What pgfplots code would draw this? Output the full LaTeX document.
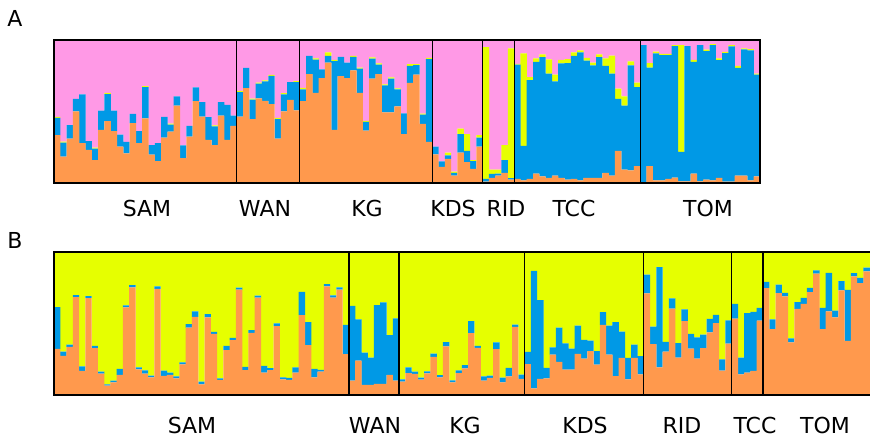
\documentclass[border=0pt]{standalone}
\usepackage{pgfplots}
\usepackage{pgfplotstable}
\usepackage{fontspec}
\setmainfont{DejaVu Sans}
\pgfplotsset{compat=1.18}

\definecolor{cpink}{HTML}{FF99E6}
\definecolor{cblue}{HTML}{0099E6}
\definecolor{corange}{HTML}{FF994D}
\definecolor{cyellow}{HTML}{E6FF00}

% panel A: orange, blue, yellow, pink per individual
\pgfplotstableread{
x o b y p
1 .334 .122 .007 .537
2 .184 .099 .007 .710
3 .311 .094 0 .595
4 .501 .087 0 .412
5 .278 .341 0 .381
6 .231 .061 0 .708
7 .160 .080 .007 .753
8 .372 .134 0 .494
9 .433 .188 .009 .370
10 .362 .144 0 .494
11 .254 .085 0 .661
12 .207 .080 0 .713
13 .419 .064 0 .517
14 .278 .085 0 .637
15 .452 .219 .007 .322
16 .198 .066 0 .736
17 .153 .125 0 .722
18 .318 .144 0 .538
19 .360 .049 .007 .584
20 .541 .064 0 .395
21 .174 .089 0 .737
22 .325 .075 0 .600
23 .572 .096 0 .332
24 .464 .101 0 .435
25 .301 .160 0 .539
26 .264 .132 .007 .597
27 .471 .094 0 .435
28 .301 .245 0 .454
29 .400 .071 0 .529
30 .464 .172 .009 .355
31 .664 .141 0 .195
32 .447 .136 .007 .410
33 .591 .104 .007 .298
34 .574 .136 .007 .283
35 .551 .198 .007 .244
36 .311 .136 .009 .544
37 .501 .118 .009 .372
38 .581 .125 0 .294
39 .508 .198 .007 .287
40 .572 .082 .012 .334
41 .762 .127 0 .111
42 .631 .231 .009 .129
43 .734 .061 0 .205
44 .842 .047 .024 .087
45 .372 .480 .009 .139
46 .748 .134 0 .118
47 .734 .108 0 .158
48 .788 .094 .007 .111
49 .631 .169 .007 .193
50 .367 .061 .007 .565
51 .729 .141 .009 .121
52 .762 .066 .009 .163
53 .494 .188 .007 .311
54 .494 .235 .009 .262
55 .536 .118 .007 .339
56 .341 .146 0 .513
57 .701 .118 .012 .169
58 .758 .066 .007 .169
59 .414 .064 .007 .515
60 .287 .579 .009 .125
61 .200 .054 0 .746
62 .113 .038 0 .849
63 .169 .024 .019 .788
64 .052 .019 .009 .920
65 .212 .129 .040 .619
66 .146 .078 .118 .658
67 .099 .054 .007 .840
68 .254 .064 .016 .666
69 .009 .019 .922 .050
70 .035 .028 .031 .906
71 .052 .014 .028 .906
72 .071 .089 .104 .736
73 .024 .010 .907 .059
74 .028 .800 .005 .167
75 .019 .240 .647 .094
76 .028 .692 .021 .259
77 .066 .781 .024 .129
78 .047 .833 .019 .101
79 .035 .729 .101 .135
80 .052 .659 .047 .242
81 .035 .802 .024 .139
82 .024 .814 .028 .134
83 .028 .861 .024 .087
84 .019 .894 .014 .073
85 .035 .821 .019 .125
86 .035 .788 .019 .158
87 .035 .845 .019 .101
88 .071 .748 .052 .129
89 .052 .713 .125 .110
90 .224 .365 .071 .340
91 .094 .447 .064 .395
92 .089 .734 .028 .149
93 .118 .553 .031 .298
94 .005 .960 0 .035
95 .118 .689 .031 .162
96 .019 .887 .012 .082
97 .019 .875 .009 .097
98 .028 .866 .009 .097
99 .038 .920 .007 .035
100 .012 .205 .748 .035
101 .012 .946 0 .042
102 .066 .781 .014 .139
103 .012 .953 0 .035
104 .024 .899 .009 .068
105 .019 .946 .007 .028
106 .035 .824 .012 .129
107 .009 .899 .009 .083
108 .009 .946 .009 .036
109 .052 .753 .014 .181
110 .052 .882 .007 .059
111 .019 .908 .009 .064
112 .047 .711 .007 .235
}\tabA

% panel B: orange, blue, yellow
\pgfplotstableread{
x o b y
1 .322 .292 .386
2 .273 .030 .697
3 .336 .016 .648
4 .685 .014 .301
5 .168 .033 .799
6 .678 .014 .308
7 .327 .016 .657
8 .150 .014 .836
9 .065 .009 .926
10 .089 .012 .899
11 .140 .042 .818
12 .612 .014 .374
13 .752 .016 .232
14 .180 .014 .806
15 .150 .023 .827
16 .124 .012 .864
17 .743 .016 .241
18 .133 .037 .830
19 .140 .016 .844
20 .117 .014 .869
21 .215 .014 .771
22 .472 .023 .505
23 .547 .037 .416
24 .075 .019 .906
25 .542 .023 .435
26 .428 .014 .558
27 .105 .012 .883
28 .314 .030 .656
29 .384 .016 .600
30 .737 .014 .249
31 .174 .023 .803
32 .435 .019 .546
33 .681 .014 .305
34 .156 .047 .797
35 .174 .014 .812
36 .481 .019 .500
37 .109 .014 .877
38 .105 .014 .881
39 .156 .037 .807
40 .558 .163 .279
41 .349 .160 .491
42 .123 .060 .817
43 .163 .012 .825
44 .760 .016 .224
45 .681 .016 .303
46 .737 .016 .247
47 .286 .205 .509
48 .100 .523 .377
49 .240 .288 .472
50 .070 .226 .704
51 .070 .191 .739
52 .077 .551 .372
53 .077 .570 .353
54 .140 .279 .581
55 .100 .435 .465
56 .093 .016 .891
57 .153 .040 .807
58 .147 .016 .837
59 .107 .014 .879
60 .151 .014 .835
61 .267 .023 .710
62 .123 .016 .861
63 .340 .030 .630
64 .088 .014 .898
65 .153 .019 .828
66 .186 .023 .791
67 .433 .084 .483
68 .330 .014 .656
69 .100 .030 .870
70 .119 .016 .865
71 .321 .047 .632
72 .088 .033 .879
73 .130 .060 .810
74 .477 .016 .507
75 .112 .030 .858
76 .216 .086 .698
77 .047 .821 .132
78 .112 .551 .337
79 .116 .074 .810
80 .282 .051 .667
81 .231 .241 .528
82 .178 .183 .639
83 .178 .146 .676
84 .287 .199 .514
85 .255 .130 .615
86 .306 .074 .620
87 .213 .093 .694
88 .491 .088 .421
89 .282 .204 .514
90 .132 .377 .491
91 .259 .185 .556
92 .109 .150 .741
93 .259 .093 .648
94 .144 .127 .729
95 .711 .130 .159
96 .355 .123 .522
97 .194 .701 .105
98 .303 .069 .628
99 .604 .071 .325
100 .261 .102 .637
101 .517 .081 .402
102 .325 .102 .573
103 .254 .149 .597
104 .327 .095 .578
105 .438 .095 .467
106 .502 .059 .439
107 .171 .078 .751
108 .360 .161 .479
109 .534 .103 .363
110 .145 .117 .738
111 .157 .415 .428
112 .169 .412 .419
113 .520 .089 .391
114 .747 .044 .209
115 .461 .068 .471
116 .712 .059 .229
117 .689 .026 .285
118 .368 .028 .604
119 .602 .047 .351
120 .637 .042 .321
121 .719 .030 .251
122 .848 .023 .129
123 .461 .148 .391
124 .585 .269 .146
125 .543 .047 .410
126 .731 .066 .203
127 .379 .356 .265
128 .829 .023 .148
129 .782 .037 .181
130 .864 .026 .110
}\tabB

\newcommand{\lab}{\fontsize{22bp}{26bp}\selectfont}

\pgfplotsset{
  struct/.style={
    scale only axis, anchor=south west,
    ybar stacked, bar width=1.02,
    ymin=0, ymax=1, xtick=\empty, ytick=\empty,
    axis line style={line width=1.6bp},
    axis on top, clip=true,
    extra x tick labels={},
    extra x tick style={grid=major, major tick length=0pt,
      major grid style={black, line width=1.3bp}},
  },
}

\begin{document}
\begin{tikzpicture}
\useasboundingbox (0,0) rectangle (870bp,440bp);
\node[font=\lab] at (15bp,421.5bp) {A};
\node[font=\lab] at (15bp,199.5bp) {B};

\begin{axis}[struct, at={(54bp,257bp)}, width=706bp, height=143bp,
  xmin=0.5, xmax=112.5,
  extra x ticks={29.5,39.5,60.5,68.5,73.5,93.5}]
\addplot[fill=corange, draw=none] table[x=x, y=o] {\tabA};
\addplot[fill=cblue, draw=none] table[x=x, y=b] {\tabA};
\addplot[fill=cyellow, draw=none] table[x=x, y=y] {\tabA};
\addplot[fill=cpink, draw=none] table[x=x, y=p] {\tabA};
\end{axis}
\begin{scope}[font=\lab]
\node at (147bp,232bp) {SAM};
\node at (265bp,232bp) {WAN};
\node at (367bp,232bp) {KG};
\node at (453bp,232bp) {KDS};
\node at (506bp,232bp) {RID};
\node at (574bp,232bp) {TCC};
\node at (708bp,232bp) {TOM};
\end{scope}

\begin{axis}[struct, at={(54bp,45bp)}, width=817.6bp, height=143bp,
  xmin=0.5, xmax=130.8,
  extra x ticks={47.5,55.5,75.5,94.5,108.5,113.5}]
\addplot[fill=corange, draw=none] table[x=x, y=o] {\tabB};
\addplot[fill=cblue, draw=none] table[x=x, y=b] {\tabB};
\addplot[fill=cyellow, draw=none] table[x=x, y=y] {\tabB};
\end{axis}
\begin{scope}[font=\lab]
\node at (192bp,15bp) {SAM};
\node at (375bp,15bp) {WAN};
\node at (465bp,15bp) {KG};
\node at (585bp,15bp) {KDS};
\node at (682bp,15bp) {RID};
\node at (755bp,15bp) {TCC};
\node at (825bp,15bp) {TOM};
\end{scope}
\end{tikzpicture}
\end{document}
